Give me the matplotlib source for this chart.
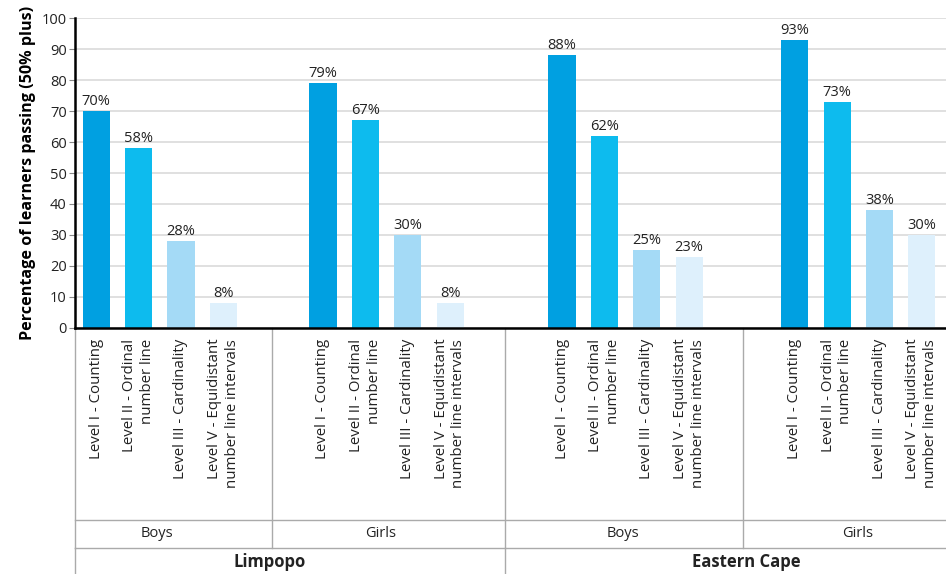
import matplotlib.pyplot as plt
import matplotlib.transforms as mtransforms
import numpy as np

plt.rcParams['font.family'] = ['Open Sans', 'DejaVu Sans']

levels = ["Level I - Counting", "Level II - Ordinal\nnumber line", "Level III - Cardinality",
          "Level V - Equidistant\nnumber line intervals"]
genders = ["Boys", "Girls", "Boys", "Girls"]
provinces = ["Limpopo", "Eastern Cape"]

limpopo_boys = [70, 58, 28, 8]
limpopo_girls = [79, 67, 30, 8]
ecape_boys = [88, 62, 25, 23]
ecape_girls = [93, 73, 38, 30]
series = [limpopo_boys, limpopo_girls, ecape_boys, ecape_girls]

colors = ["#00A0E1", "#0DBBEE", "#A4DAF6", "#DEF0FC"]

# layout of the category slots (in bar units)
group_starts = [0.5, 5.85, 11.49, 16.98]
gender_edges = [0.0, 4.65, 10.14, 15.75, 20.55]
province_edges = [0.0, 10.14, 20.55]
gender_label_x = [1.93, 7.22, 12.92, 18.47]
province_label_x = [4.6, 15.85]

fig = plt.figure(figsize=(9.46, 5.74), dpi=100)
ax = fig.add_axes([0.0793, 0.4286, 0.9207, 0.54])

for start, vals in zip(group_starts, series):
    xs = start + np.arange(len(vals))
    ax.bar(xs, vals, width=0.64, color=colors, zorder=2)
    for x, v in zip(xs, vals):
        ax.text(x, v + 0.7, "%d%%" % v, ha="center", va="bottom", fontsize=10.5, color="#222222")

ax.set_xlim(gender_edges[0], gender_edges[-1])
ax.set_ylim(0, 100)
ax.set_yticks(np.arange(0, 101, 10))
ax.tick_params(axis="y", labelsize=10.5, length=4, color="#888888", pad=2, labelcolor="#222222")
ax.set_xticks([])
ax.yaxis.grid(True, color="#dddddd", linewidth=1.3, zorder=0)
ax.set_axisbelow(True)
for side in ["top", "right"]:
    ax.spines[side].set_visible(False)
ax.spines["left"].set_linewidth(1.8)
ax.spines["bottom"].set_linewidth(1.8)
ax.set_ylabel("Percentage of learners passing (50% plus)", fontsize=11.6, fontweight="bold", labelpad=4)

# hierarchical category axis below the plot
trans = mtransforms.blended_transform_factory(ax.transData, ax.transAxes)
y_gender = -0.619
y_prov = -0.71
y_bottom = -0.80
line_kw = dict(color="#aaaaaa", linewidth=1, transform=trans, clip_on=False)

for start in group_starts:
    for i, lab in enumerate(levels):
        ax.text(start + i, -0.035, lab, rotation=90, ha="center", va="top", multialignment="right",
                fontsize=10.8, color="#222222", transform=trans, linespacing=1.25)

for x in gender_edges[:-1]:
    ax.plot([x, x], [0, y_prov], **line_kw)
for x in province_edges[:-1]:
    ax.plot([x, x], [y_prov, y_bottom], **line_kw)
for y in (y_gender, y_prov):
    ax.plot([gender_edges[0], gender_edges[-1]], [y, y], **line_kw)

for x, g in zip(gender_label_x, genders):
    ax.text(x, (y_gender + y_prov) / 2, g,
            ha="center", va="center", fontsize=10.5, color="#222222", transform=trans)
for x, p in zip(province_label_x, provinces):
    ax.text(x, (y_prov + y_bottom) / 2, p,
            ha="center", va="center", fontsize=12, fontweight="bold", color="#222222", transform=trans)

fig.savefig("out.png", dpi=100)
